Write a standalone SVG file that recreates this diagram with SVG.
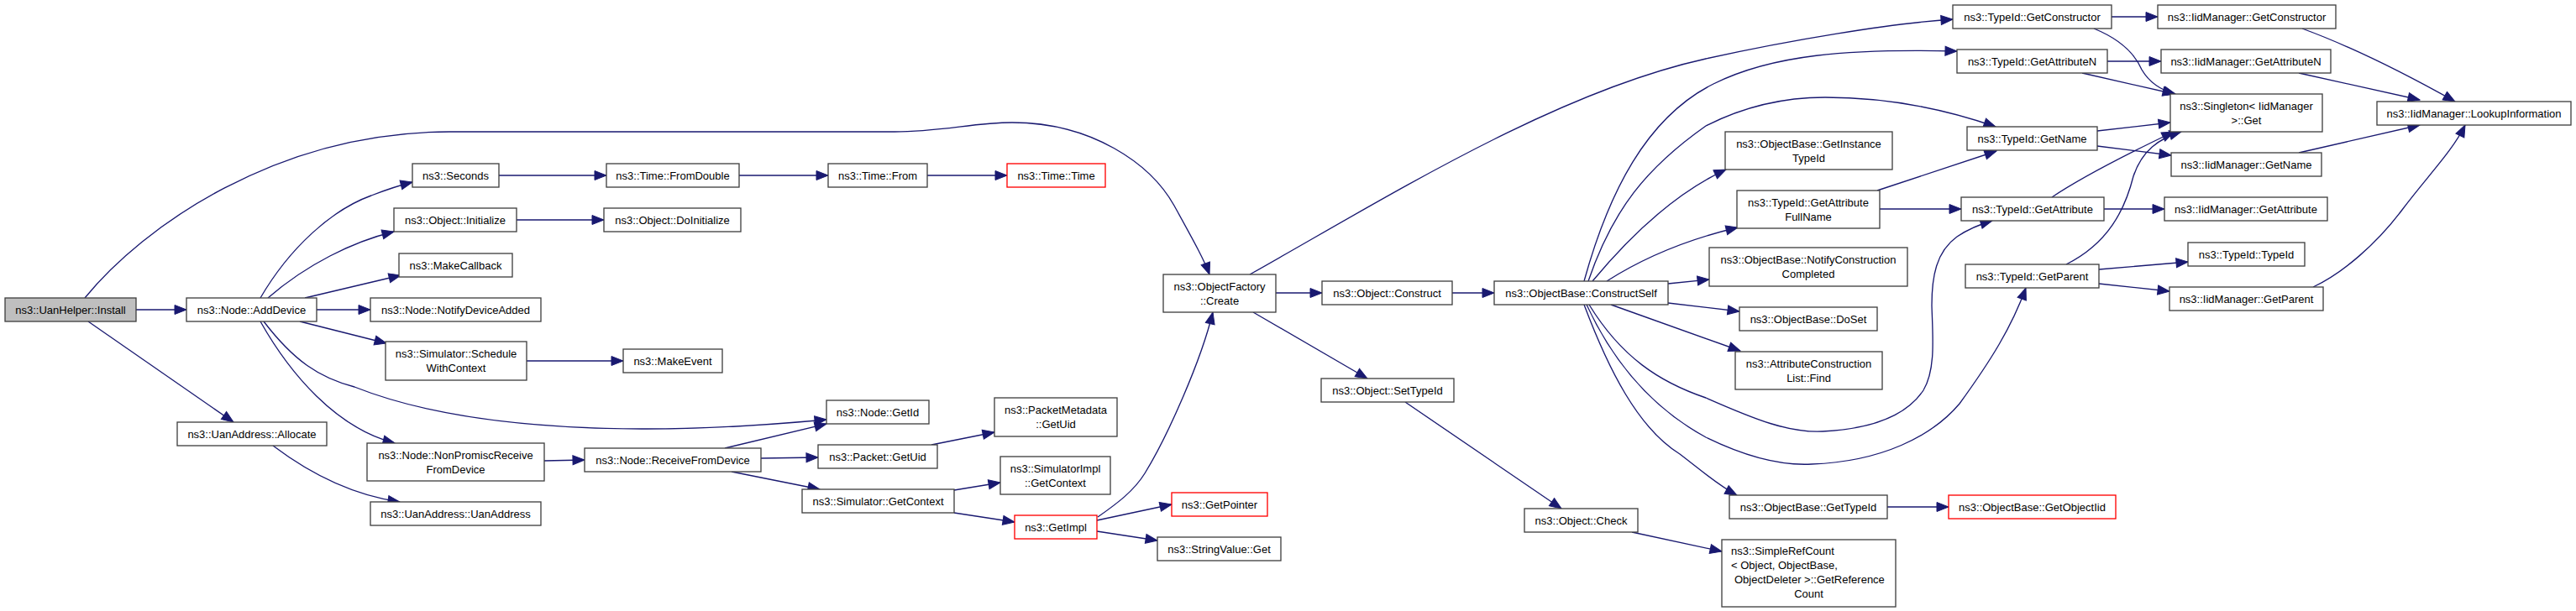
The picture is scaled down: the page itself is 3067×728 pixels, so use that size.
<svg xmlns="http://www.w3.org/2000/svg" width="3067" height="728" viewBox="0 0 3067 728">
<style>
.node rect{fill:#ffffff;stroke:#404040;stroke-width:1.33}
.node.red rect{stroke:#ff0000}
.node.root rect{fill:#bfbfbf}
text{font-family:"Liberation Sans",Arial,Helvetica,sans-serif;font-size:13px;text-anchor:middle;fill:#000000}
text.l{text-anchor:start}
.edges path{fill:none;stroke:#191970;stroke-width:1.33;marker-end:url(#arr)}
</style>
<defs>
<marker id="arr" markerUnits="userSpaceOnUse" markerWidth="16" markerHeight="13" refX="14" refY="5.5" orient="auto" overflow="visible">
<path d="M0,0 L14,5.5 L0,11 Z" fill="#191970" stroke="#191970" stroke-width="1"/>
</marker>
</defs>
<rect x="0" y="0" width="3067" height="728" fill="#ffffff"/>
<g class="edges" id="edges">
<path d="M162,369 L222,369"/>
<path d="M101,355 C170,270 330,157 535,157 L1065,157 C1120,157 1160,146 1205,146 C1300,146 1370,195 1398,245 C1420,285 1434,310 1440,327"/>
<path d="M310,355 C345,295 395,250 442,233 C460,226 475,221 491,217"/>
<path d="M319,355 C365,315 420,288 469,276"/>
<path d="M363,355 L477,328"/>
<path d="M377,369 L441,369"/>
<path d="M357,383 L460,409"/>
<path d="M314,383 C350,430 380,450 422,461 C520,500 650,511 770,511 C850,511 930,505 984,500"/>
<path d="M310,383 C345,445 400,510 470,528"/>
<path d="M105,383 L278,503"/>
<path d="M325,531 C370,565 420,590 476,598"/>
<path d="M627,430 L742,430"/>
<path d="M648,549 L696,548"/>
<path d="M594,209 L722,209"/>
<path d="M615,262 L719,262"/>
<path d="M880,209 L986,209"/>
<path d="M1104,209 L1199,209"/>
<path d="M863,534 L984,505"/>
<path d="M906,546 L974,545"/>
<path d="M871,562 L976,583"/>
<path d="M1109,530 L1184,515"/>
<path d="M1136,584 L1191,575"/>
<path d="M1136,611 L1208,622"/>
<path d="M1307,616 C1330,600 1350,585 1363,564 C1390,520 1430,430 1444,372"/>
<path d="M1306,620 L1395,601"/>
<path d="M1306,633 L1378,644"/>
<path d="M1519,349 L1574,349"/>
<path d="M1492,372 L1628,451"/>
<path d="M1488,327 C1650,236 1850,110 2031,70 C2130,48 2250,28 2325,23"/>
<path d="M1729,349 L1779,349"/>
<path d="M1673,479 L1859,606"/>
<path d="M1943,634 L2050,657"/>
<path d="M1886,335 C1915,230 1960,140 2040,100 C2110,65 2200,58 2330,61"/>
<path d="M1891,335 C1920,250 1960,200 2031,150 C2080,125 2130,116 2173,116 C2260,116 2330,135 2376,151"/>
<path d="M1896,335 C1950,270 2005,225 2055,202"/>
<path d="M1913,335 C1960,305 2010,285 2069,271"/>
<path d="M1986,338 L2035,333"/>
<path d="M1986,361 L2071,371"/>
<path d="M1918,363 L2072,418"/>
<path d="M1892,363 C1930,425 1975,455 2031,474 C2090,500 2130,516 2170,514 C2230,511 2270,495 2290,465 C2305,440 2301,400 2300,364 C2300,330 2305,300 2330,282 C2345,272 2358,267 2372,263"/>
<path d="M1889,363 C1920,430 1965,485 2031,521 C2080,545 2120,555 2157,553 C2240,550 2300,520 2333,481 C2370,430 2395,390 2412,343"/>
<path d="M1886,363 C1915,440 1950,510 2000,541 C2025,560 2045,578 2068,590"/>
<path d="M2235,227 L2377,180"/>
<path d="M2238,249 L2335,249"/>
<path d="M2514,20 L2569,20"/>
<path d="M2493,34 C2520,45 2540,60 2550,83 C2560,100 2575,108 2590,112"/>
<path d="M2509,73 L2573,73"/>
<path d="M2479,87 L2589,112"/>
<path d="M2497,156 L2584,146"/>
<path d="M2497,174 L2585,185"/>
<path d="M2443,235 C2480,210 2540,180 2588,157"/>
<path d="M2505,249 L2577,249"/>
<path d="M2460,315 C2510,290 2530,250 2540,210 C2550,180 2570,165 2597,157"/>
<path d="M2499,321 L2605,312"/>
<path d="M2499,338 L2583,347"/>
<path d="M2741,34 C2790,52 2850,80 2923,121"/>
<path d="M2737,87 L2881,119"/>
<path d="M2737,182 L2881,149"/>
<path d="M2754,342 C2790,325 2830,290 2860,250 C2890,210 2920,180 2935,149"/>
<path d="M2247,604 L2320,604"/>
</g>
<g id="n_install" class="node root"><rect x="6" y="355" width="156" height="28"/><text x="84" y="374">ns3::UanHelper::Install</text></g>
<g id="n_adddevice" class="node"><rect x="222" y="355" width="155" height="28"/><text x="299.5" y="374">ns3::Node::AddDevice</text></g>
<g id="n_notify" class="node"><rect x="441" y="355" width="203" height="28"/><text x="542.5" y="374">ns3::Node::NotifyDeviceAdded</text></g>
<g id="n_seconds" class="node"><rect x="491" y="195" width="103" height="28"/><text x="542.5" y="214">ns3::Seconds</text></g>
<g id="n_init" class="node"><rect x="469" y="248" width="146" height="28"/><text x="542" y="267">ns3::Object::Initialize</text></g>
<g id="n_makecb" class="node"><rect x="475" y="302" width="135" height="28"/><text x="542.5" y="321">ns3::MakeCallback</text></g>
<g id="n_sched" class="node"><rect x="459" y="407" width="168" height="46"/><text x="543" y="426">ns3::Simulator::Schedule</text><text x="543" y="443">WithContext</text></g>
<g id="n_alloc" class="node"><rect x="211" y="503" width="178" height="28"/><text x="300" y="522">ns3::UanAddress::Allocate</text></g>
<g id="n_nonpromisc" class="node"><rect x="437" y="528" width="211" height="45"/><text x="542.5" y="546.5">ns3::Node::NonPromiscReceive</text><text x="542.5" y="563.5">FromDevice</text></g>
<g id="n_uanaddr" class="node"><rect x="441" y="598" width="203" height="28"/><text x="542.5" y="617">ns3::UanAddress::UanAddress</text></g>
<g id="n_fromdouble" class="node"><rect x="722" y="195" width="158" height="28"/><text x="801" y="214">ns3::Time::FromDouble</text></g>
<g id="n_doinit" class="node"><rect x="719" y="248" width="163" height="28"/><text x="800.5" y="267">ns3::Object::DoInitialize</text></g>
<g id="n_makeevent" class="node"><rect x="742" y="416" width="118" height="28"/><text x="801" y="435">ns3::MakeEvent</text></g>
<g id="n_recv" class="node"><rect x="696" y="534" width="210" height="28"/><text x="801" y="553">ns3::Node::ReceiveFromDevice</text></g>
<g id="n_timefrom" class="node"><rect x="986" y="195" width="118" height="28"/><text x="1045" y="214">ns3::Time::From</text></g>
<g id="n_timetime" class="node red"><rect x="1199" y="195" width="117" height="28"/><text x="1257.5" y="214">ns3::Time::Time</text></g>
<g id="n_create" class="node"><rect x="1385" y="327" width="134" height="45"/><text x="1452" y="345.5">ns3::ObjectFactory</text><text x="1452" y="362.5">::Create</text></g>
<g id="n_getid" class="node"><rect x="984" y="477" width="122" height="28"/><text x="1045" y="496">ns3::Node::GetId</text></g>
<g id="n_pmgetuid" class="node"><rect x="1184" y="474" width="146" height="46"/><text x="1257" y="493">ns3::PacketMetadata</text><text x="1257" y="510">::GetUid</text></g>
<g id="n_pgetuid" class="node"><rect x="974" y="530" width="142" height="28"/><text x="1045" y="549">ns3::Packet::GetUid</text></g>
<g id="n_simimpl" class="node"><rect x="1191" y="544" width="131" height="45"/><text x="1256.5" y="562.5">ns3::SimulatorImpl</text><text x="1256.5" y="579.5">::GetContext</text></g>
<g id="n_simctx" class="node"><rect x="955" y="583" width="181" height="28"/><text x="1045.5" y="602">ns3::Simulator::GetContext</text></g>
<g id="n_getimpl" class="node red"><rect x="1208" y="614" width="98" height="28"/><text x="1257" y="633">ns3::GetImpl</text></g>
<g id="n_getptr" class="node red"><rect x="1395" y="587" width="114" height="28"/><text x="1452" y="606">ns3::GetPointer</text></g>
<g id="n_strget" class="node"><rect x="1378" y="640" width="147" height="28"/><text x="1451.5" y="659">ns3::StringValue::Get</text></g>
<g id="n_construct" class="node"><rect x="1574" y="335" width="155" height="28"/><text x="1651.5" y="354">ns3::Object::Construct</text></g>
<g id="n_cself" class="node"><rect x="1779" y="335" width="207" height="28"/><text x="1882.5" y="354">ns3::ObjectBase::ConstructSelf</text></g>
<g id="n_settypeid" class="node"><rect x="1573" y="451" width="158" height="28"/><text x="1652" y="470">ns3::Object::SetTypeId</text></g>
<g id="n_check" class="node"><rect x="1815" y="606" width="135" height="28"/><text x="1882.5" y="625">ns3::Object::Check</text></g>
<g id="n_srefcount" class="node"><rect x="2050" y="643" width="207" height="80"/><text class="l" x="2061" y="660.5">ns3::SimpleRefCount</text><text class="l" x="2061" y="677.5">&lt; Object, ObjectBase,</text><text class="l" x="2065" y="694.5">ObjectDeleter &gt;::GetReference</text><text x="2153.5" y="711.5">Count</text></g>
<g id="n_getinst" class="node"><rect x="2054" y="157" width="199" height="45"/><text x="2153.5" y="175.5">ns3::ObjectBase::GetInstance</text><text x="2153.5" y="192.5">TypeId</text></g>
<g id="n_attrfull" class="node"><rect x="2068" y="227" width="170" height="45"/><text x="2153" y="245.5">ns3::TypeId::GetAttribute</text><text x="2153" y="262.5">FullName</text></g>
<g id="n_notifyconst" class="node"><rect x="2035" y="295" width="236" height="46"/><text x="2153" y="314">ns3::ObjectBase::NotifyConstruction</text><text x="2153" y="331">Completed</text></g>
<g id="n_doset" class="node"><rect x="2071" y="366" width="164" height="28"/><text x="2153" y="385">ns3::ObjectBase::DoSet</text></g>
<g id="n_acl" class="node"><rect x="2066" y="419" width="175" height="45"/><text x="2153.5" y="437.5">ns3::AttributeConstruction</text><text x="2153.5" y="454.5">List::Find</text></g>
<g id="n_obgettypeid" class="node"><rect x="2059" y="590" width="188" height="28"/><text x="2153" y="609">ns3::ObjectBase::GetTypeId</text></g>
<g id="n_getobjiid" class="node red"><rect x="2320" y="590" width="199" height="28"/><text x="2419.5" y="609">ns3::ObjectBase::GetObjectIid</text></g>
<g id="n_tgetctor" class="node"><rect x="2325" y="6" width="189" height="28"/><text x="2419.5" y="25">ns3::TypeId::GetConstructor</text></g>
<g id="n_tgetattrn" class="node"><rect x="2330" y="59" width="179" height="28"/><text x="2419.5" y="78">ns3::TypeId::GetAttributeN</text></g>
<g id="n_tgetname" class="node"><rect x="2342" y="151" width="155" height="28"/><text x="2419.5" y="170">ns3::TypeId::GetName</text></g>
<g id="n_tgetattr" class="node"><rect x="2335" y="235" width="170" height="28"/><text x="2420" y="254">ns3::TypeId::GetAttribute</text></g>
<g id="n_tgetparent" class="node"><rect x="2340" y="315" width="159" height="28"/><text x="2419.5" y="334">ns3::TypeId::GetParent</text></g>
<g id="n_igetctor" class="node"><rect x="2569" y="6" width="212" height="28"/><text x="2675" y="25">ns3::IidManager::GetConstructor</text></g>
<g id="n_igetattrn" class="node"><rect x="2573" y="59" width="202" height="28"/><text x="2674" y="78">ns3::IidManager::GetAttributeN</text></g>
<g id="n_singleton" class="node"><rect x="2584" y="112" width="181" height="45"/><text x="2674.5" y="130.5">ns3::Singleton&lt; IidManager</text><text x="2674.5" y="147.5">&gt;::Get</text></g>
<g id="n_lookup" class="node"><rect x="2830" y="121" width="231" height="28"/><text x="2945.5" y="140">ns3::IidManager::LookupInformation</text></g>
<g id="n_igetname" class="node"><rect x="2585" y="182" width="179" height="28"/><text x="2674.5" y="201">ns3::IidManager::GetName</text></g>
<g id="n_igetattr" class="node"><rect x="2577" y="235" width="194" height="28"/><text x="2674" y="254">ns3::IidManager::GetAttribute</text></g>
<g id="n_ttypeid" class="node"><rect x="2605" y="289" width="139" height="28"/><text x="2674.5" y="308">ns3::TypeId::TypeId</text></g>
<g id="n_igetparent" class="node"><rect x="2583" y="342" width="183" height="28"/><text x="2674.5" y="361">ns3::IidManager::GetParent</text></g>
</svg>
